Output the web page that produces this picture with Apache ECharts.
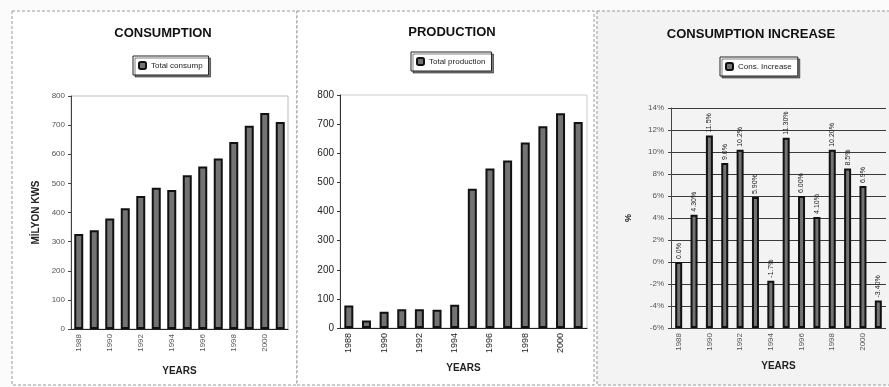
<!DOCTYPE html>
<html><head><meta charset="utf-8">
<script src="https://cdn.jsdelivr.net/npm/echarts@6/dist/echarts.min.js"></script>
<style>html,body{margin:0;padding:0;background:#fbfbfb;}#c{width:889px;height:387px;}</style>
</head><body><div id="c"></div>
<script>
var years = ['1988','1989','1990','1991','1992','1993','1994','1995','1996','1997','1998','1999','2000','2001'];
var consumption = [326, 339, 379, 415, 457, 485, 477, 528, 558, 585, 642, 698, 742, 711];
var production = [77, 26, 56, 64, 64, 63, 80, 478, 548, 575, 637, 693, 737, 707];
var increase = [0.0, 4.3, 11.5, 9.0, 10.2, 5.9, -1.7, 11.3, 6.0, 4.1, 10.2, 8.5, 6.9, -3.5];
var increaseLabels = ['0.0%','4.30%','11.5%','9.0%','10.2%','5.90%','-1.7%','11.30%','6.00%','4.10%','10.20%','8.5%','6.9%','-3.40%'];
var pctMin = -6;

var FONT = '"Liberation Sans", Arial, sans-serif';
var barStyle = {color:'#737373', borderColor:'#111', borderWidth:2};
var chart = echarts.init(document.getElementById('c'), null, {renderer:'canvas'});

function panel(x, y, w, h, fill){
  return {type:'rect', shape:{x:x,y:y,width:w,height:h}, z:-10,
    style:{fill:fill, stroke:'#9a9a9a', lineWidth:1, lineDash:[3,2]}};
}

var option = {
  animation:false,
  backgroundColor:'#fbfbfb',
  graphic:[
    panel(12, 11, 285, 374, '#ffffff'),
    panel(297, 11, 297, 374, '#ffffff'),
    panel(597, 11, 295, 374, '#f3f3f3')
  ],
  title:[
    {text:'CONSUMPTION', left:158, top:22, textAlign:'center', textStyle:{fontFamily:FONT, fontSize:13, fontWeight:'bold', color:'#111'}},
    {text:'PRODUCTION', left:447, top:21, textAlign:'center', textStyle:{fontFamily:FONT, fontSize:13, fontWeight:'bold', color:'#111'}},
    {text:'CONSUMPTION INCREASE', left:746, top:23, textAlign:'center', textStyle:{fontFamily:FONT, fontSize:13, fontWeight:'bold', color:'#111'}}
  ],
  legend:[
    {data:['Total consump'], left:133, top:56, itemWidth:7, itemHeight:7, itemGap:4, padding:[5,6,5,5],
     borderColor:'#222', borderWidth:1, backgroundColor:'#fff', shadowColor:'rgba(0,0,0,0.5)', shadowOffsetX:2, shadowOffsetY:2,
     textStyle:{fontFamily:FONT, fontSize:8, color:'#222'}},
    {data:['Total production'], left:411, top:52, itemWidth:7, itemHeight:7, itemGap:4, padding:[5,6,5,5],
     borderColor:'#222', borderWidth:1, backgroundColor:'#fff', shadowColor:'rgba(0,0,0,0.5)', shadowOffsetX:2, shadowOffsetY:2,
     textStyle:{fontFamily:FONT, fontSize:8, color:'#222'}},
    {data:['Cons. Increase'], left:720, top:57, itemWidth:7, itemHeight:7, itemGap:4, padding:[5,6,5,5],
     borderColor:'#222', borderWidth:1, backgroundColor:'#fff', shadowColor:'rgba(0,0,0,0.5)', shadowOffsetX:2, shadowOffsetY:2,
     textStyle:{fontFamily:FONT, fontSize:8, color:'#222'}}
  ],
  grid:[
    {left:71, top:96, width:217, height:233, show:true, borderColor:'#bbb', borderWidth:1, backgroundColor:'transparent'},
    {left:340, top:95, width:247, height:233, show:true, borderColor:'#ccc', borderWidth:1, backgroundColor:'transparent'},
    {left:671, top:108, width:215, height:220}
  ],
  xAxis:[0,1,2].map(function(i){
    return {type:'category', gridIndex:i, data:years,
      axisLine:{lineStyle:{color:'#222', width:1.2}}, axisTick:{show:false},
      axisLabel:{interval:1, rotate:90, fontFamily:FONT, fontSize:i===1?9:8, color:i===1?'#222':'#555', margin:5},
      name:'YEARS', nameLocation:'middle', nameGap:i===0?37:(i===1?35:33),
      nameTextStyle:{fontFamily:FONT, fontSize:10, fontWeight:'bold', color:'#222'}};
  }),
  yAxis:[
    {type:'value', gridIndex:0, min:0, max:800, interval:100,
     axisLine:{show:true, lineStyle:{color:'#444'}}, axisTick:{show:true, length:3, lineStyle:{color:'#444'}},
     splitLine:{show:false}, axisLabel:{fontFamily:FONT, fontSize:8, color:'#555', margin:6},
     name:'MİLYON KWS', nameLocation:'middle', nameGap:30, nameRotate:90,
     nameTextStyle:{fontFamily:FONT, fontSize:10, fontWeight:'bold', color:'#222'}},
    {type:'value', gridIndex:1, min:0, max:800, interval:100,
     axisLine:{show:true, lineStyle:{color:'#333'}}, axisTick:{show:true, length:3, lineStyle:{color:'#333'}},
     splitLine:{show:false}, axisLabel:{fontFamily:FONT, fontSize:10, color:'#222', margin:6}},
    {type:'value', gridIndex:2, min:pctMin, max:14, interval:2,
     axisLine:{show:true, lineStyle:{color:'#444'}}, axisTick:{show:true, length:3, lineStyle:{color:'#444'}},
     splitLine:{show:true, lineStyle:{color:'#3a3a3a', width:1}},
     axisLabel:{fontFamily:FONT, fontSize:8, color:'#555', margin:7, formatter:'{value}%'},
     name:'%', nameLocation:'middle', nameGap:38, nameRotate:90,
     nameTextStyle:{fontFamily:FONT, fontSize:9, fontWeight:'bold', color:'#222'}}
  ],
  series:[
    {name:'Total consump', type:'bar', xAxisIndex:0, yAxisIndex:0, data:consumption, barWidth:9, itemStyle:barStyle},
    {name:'Total production', type:'bar', xAxisIndex:1, yAxisIndex:1, data:production, barWidth:9, itemStyle:barStyle},
    {name:'base', type:'bar', xAxisIndex:2, yAxisIndex:2, stack:'inc', stackStrategy:'all', barWidth:7, silent:true,
     data:increase.map(function(){return pctMin;}), itemStyle:{color:'rgba(0,0,0,0)', borderWidth:0}},
    {name:'Cons. Increase', type:'bar', xAxisIndex:2, yAxisIndex:2, stack:'inc', stackStrategy:'all', barWidth:7, z:3,
     data:increase.map(function(v){return v - pctMin;}), itemStyle:barStyle,
     label:{show:true, position:'top', rotate:90, align:'left', verticalAlign:'middle', distance:3,
       fontFamily:FONT, fontSize:7, color:'#222',
       formatter:function(p){return increaseLabels[p.dataIndex];}}}
  ]
};
chart.setOption(option);
</script>
</body></html>
